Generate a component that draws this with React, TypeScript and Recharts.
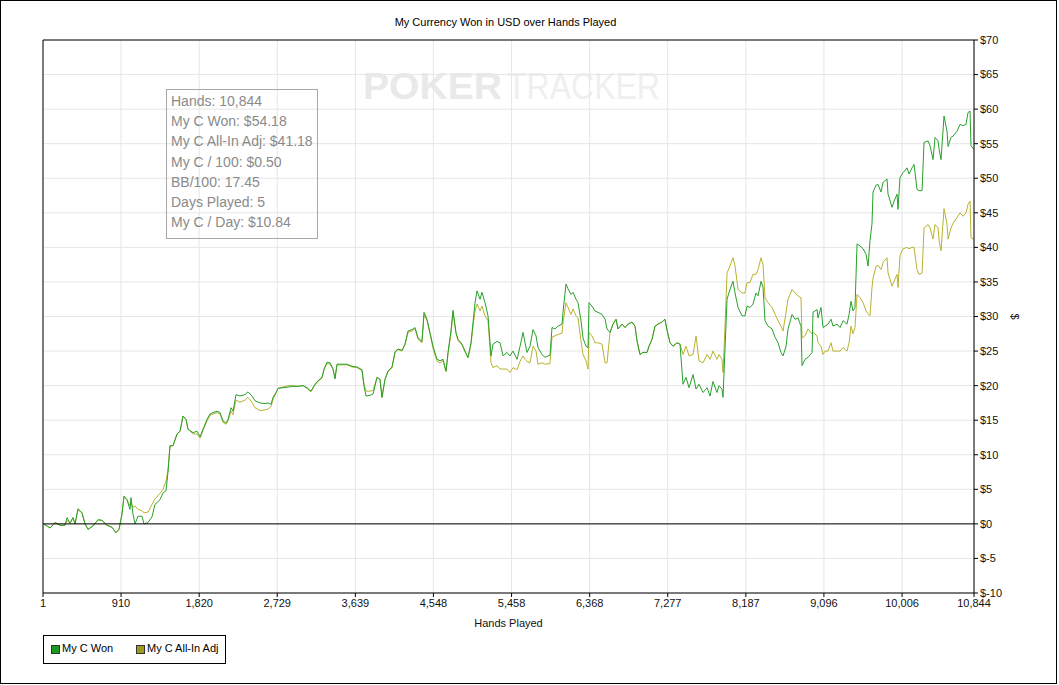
import { LineChart, Line, XAxis, YAxis, CartesianGrid, ReferenceLine } from 'recharts'

const hands = [
  1, 48, 83, 141, 199, 257, 281, 315, 350, 374, 409, 455, 490, 525, 583, 642, 688, 746, 805, 851,
  886, 921, 944, 979, 1014, 1026, 1049, 1073, 1107, 1154, 1177, 1224, 1270, 1305, 1364, 1399, 1434, 1457, 1480, 1515,
  1562, 1597, 1632, 1667, 1690, 1748, 1795, 1830, 1865, 1911, 1946,
  1981, 2028, 2063, 2097, 2132, 2156, 2191, 2214, 2249, 2295, 2354, 2389, 2435, 2470, 2528, 2587, 2622, 2657, 2680, 2715,
  2738, 2796, 2855, 2913, 2971, 3029, 3076, 3122, 3169, 3204, 3251, 3274, 3309, 3344, 3379, 3402, 3425, 3483, 3542, 3600,
  3658, 3716, 3740, 3763, 3810, 3845, 3891, 3926, 3949, 3984,
  4019, 4066, 4101, 4136, 4182, 4217, 4252, 4299, 4334, 4369, 4415, 4439, 4473, 4508, 4543, 4590, 4625, 4660, 4695, 4718,
  4753, 4776, 4811, 4835, 4881, 4916, 4951, 4986, 5009, 5033, 5056, 5091, 5114, 5149, 5184, 5219, 5242, 5289, 5324, 5359,
  5405, 5440, 5475, 5522, 5557, 5592, 5615, 5638, 5673, 5708, 5743, 5766, 5813, 5848, 5906,
  5929, 5964, 5999, 6046, 6057, 6092, 6116, 6151, 6174, 6209, 6232, 6267, 6290, 6325, 6349, 6360, 6395, 6430, 6465, 6512,
  6547, 6570, 6605, 6640, 6675, 6698, 6745, 6780, 6815, 6861, 6896, 6919, 6954, 6989, 7036, 7059, 7094, 7129, 7164, 7210,
  7245, 7269, 7304, 7339, 7385, 7420, 7455, 7490, 7525, 7572, 7607, 7641, 7688, 7735, 7770, 7804, 7851, 7874, 7909, 7921,
  7944, 7968, 8002, 8037, 8061, 8096, 8142, 8177, 8200, 8235, 8270, 8305, 8329, 8364, 8387, 8410, 8445, 8492, 8527, 8562,
  8596, 8620, 8655, 8678, 8725, 8760, 8794, 8829, 8841, 8876, 8911, 8958, 8969, 9016, 9027, 9062, 9086, 9109, 9144, 9179,
  9202, 9249, 9284, 9319, 9365, 9389, 9412, 9435, 9458, 9482, 9517, 9552, 9587, 9610, 9633, 9656, 9668, 9703, 9726, 9761,
  9784, 9831, 9843, 9889, 9913, 9948, 9959, 9982, 10017, 10064, 10087, 10122, 10146, 10180, 10204, 10239, 10262, 10309, 10332, 10367,
  10390, 10425, 10437, 10460, 10495, 10530, 10542, 10576, 10600, 10646, 10681, 10716, 10751, 10774, 10798, 10809, 10844,
]

// My C Won
const wonValues = [
  0, -0.3, -0.6, 0.2, -0.2, -0.2, 0.9, 0.1, 0.9, 0, 2.2, 1.6, 0, -0.8, -0.3, 0.6, 0.5, -0.2, -0.5, -1.3,
  -0.8, 1.4, 4.0, 3.5, 2.1, 3.8, 1.4, 0, 1.1, 1.1, 0, 0.2, 1.0, 2.8, 3.5, 4.5, 4.8, 7.5, 11.3, 11.3,
  13.0, 13.4, 15.6, 15.1, 13.7, 13.2, 13.4, 12.6, 13.7, 15.1, 15.9,
  16.1, 16.3, 16.1, 14.9, 14.6, 15.1, 16.8, 16.3, 18.7, 18.5, 18.7, 19.1, 18.5, 17.8, 17.5, 17.4, 17.5, 17.3, 18.3, 19.0,
  19.6, 19.7, 19.8, 19.9, 19.9, 20.0, 19.7, 19.2, 20.2, 20.7, 21.2, 22.4, 23.4, 23.3, 22.4, 21.0, 23.1, 23.1, 23.1, 22.8,
  22.7, 22.3, 19.9, 18.5, 18.6, 18.8, 21.2, 20.9, 18.3, 20.9,
  22.1, 22.7, 24.9, 25.3, 25.1, 26.0, 27.9, 28.1, 28.4, 26.9, 26.4, 30.6, 29.6, 27.7, 25.7, 23.8, 23.6, 23.8, 22.1, 24.8,
  27.9, 30.9, 27.7, 26.7, 26.0, 25.0, 24.1, 26.2, 29.1, 32.0, 33.7, 32.5, 33.5, 32.0, 30.1, 24.3, 26.0, 26.4, 26.2, 24.3,
  24.8, 24.3, 25.0, 23.8, 25.7, 27.7, 26.2, 24.8, 25.7, 28.1, 27.2, 25.5, 24.5, 24.1, 24.4,
  28.4, 28.2, 28.6, 28.9, 30.6, 34.7, 34.0, 33.2, 33.5, 32.5, 32.0, 29.4, 26.9, 25.7, 25.5, 32.0, 31.5, 30.8, 30.6, 30.3,
  29.6, 28.2, 27.7, 28.9, 29.6, 28.2, 28.9, 28.4, 28.9, 29.2, 28.6, 26.5, 24.5, 24.8, 24.8, 25.7, 26.7, 28.6, 28.9, 29.2,
  29.6, 28.0, 26.2, 25.7, 26.2, 26.0, 20.2, 21.2, 19.7, 21.6, 19.5, 20.2, 19.0, 19.7, 18.5, 20.6, 19.0, 20.0, 19.5, 18.3,
  25.3, 32.5, 33.9, 35.1, 33.4, 31.3, 30.1, 30.1, 31.5, 31.3, 31.8, 33.4, 33.0, 35.1, 34.2, 29.4, 28.6, 28.2, 27.0, 26.2,
  24.8, 24.3, 25.7, 28.2, 30.3, 29.6, 29.8, 28.6, 22.9, 23.8, 24.1, 24.8, 30.6, 31.0, 29.8, 31.3, 28.4, 28.6, 28.9, 29.6,
  28.6, 28.9, 28.4, 29.4, 28.9, 30.3, 32.2, 30.8, 31.3, 40.5, 40.2, 39.8, 39.0, 37.3, 41.0, 43.4, 48.0, 49.0, 49.1, 48.0,
  49.4, 49.9, 47.7, 45.8, 46.7, 47.7, 45.5, 50.1, 50.8, 51.5, 50.6, 51.5, 52.0, 48.4, 48.2, 48.2, 55.2, 55.4, 54.7, 52.7,
  55.9, 55.4, 54.2, 52.7, 59.0, 56.8, 54.6, 55.9, 56.1, 56.8, 57.8, 57.6, 57.8, 59.5, 59.7, 54.7, 54.18,
]

// My C All-In Adj
const adjValues = [
  0, -0.3, -0.6, 0.2, -0.2, -0.2, 0.5, 0.1, 0.9, 0, 2.0, 1.6, 0, -0.8, -0.3, 0.6, 0.5, -0.2, -0.5, -1.3,
  -0.8, 1.4, 4.0, 3.5, 2.6, 3.0, 2.4, 2.6, 2.1, 1.9, 1.6, 1.7, 2.8, 3.6, 4.4, 5.0, 6.2, 7.8, 11.3, 11.3,
  13.0, 13.4, 15.6, 15.1, 13.7, 13.0, 13.0, 12.4, 13.5, 14.9, 15.7,
  15.9, 16.1, 15.9, 14.7, 14.4, 14.9, 16.3, 15.8, 17.9, 17.6, 17.9, 18.3, 17.6, 16.8, 16.4, 16.5, 16.6, 17.0, 18.0, 18.9,
  19.6, 19.8, 20.0, 20.0, 19.9, 20.0, 19.6, 19.1, 20.1, 20.6, 21.1, 22.3, 23.2, 23.1, 22.3, 21.0, 23.0, 23.0, 23.0, 22.7,
  22.6, 22.2, 20.2, 19.2, 19.2, 19.3, 21.2, 20.9, 18.3, 20.9,
  22.0, 22.6, 24.8, 25.2, 25.0, 25.9, 27.7, 27.9, 28.2, 26.7, 26.2, 30.3, 29.4, 27.5, 25.4, 23.5, 23.3, 23.6, 22.0, 24.6,
  27.7, 30.6, 27.5, 26.5, 25.9, 24.9, 24.0, 26.0, 28.6, 30.8, 31.8, 30.8, 31.5, 30.1, 29.4, 23.3, 22.6, 22.9, 22.4, 22.4,
  22.4, 21.9, 22.6, 22.3, 23.5, 24.3, 23.8, 23.5, 23.3, 25.7, 25.0, 23.1, 23.3, 23.1, 23.2,
  27.0, 27.2, 27.4, 27.6, 29.0, 32.0, 31.3, 30.3, 31.1, 30.1, 29.8, 26.5, 24.5, 23.6, 22.4, 27.7, 27.2, 26.2, 26.2, 26.0,
  23.3, 23.3, 27.7, 28.9, 29.6, 28.2, 28.9, 28.4, 28.9, 29.2, 28.6, 26.5, 24.5, 24.8, 24.8, 25.7, 26.7, 28.6, 28.9, 29.2,
  29.6, 28.0, 26.2, 25.7, 26.2, 26.0, 24.5, 25.7, 24.3, 24.5, 27.2, 23.6, 23.3, 24.5, 23.8, 25.0, 23.8, 24.5, 23.8, 21.9,
  28.6, 36.3, 37.3, 38.5, 37.3, 33.9, 33.4, 33.4, 34.9, 34.9, 36.1, 36.1, 36.8, 38.5, 37.5, 32.7, 32.0, 31.3, 30.3, 29.4,
  28.6, 27.9, 30.6, 32.5, 33.9, 33.4, 33.0, 32.7, 26.9, 27.2, 28.2, 27.5, 27.7, 27.2, 26.2, 25.7, 24.5, 25.0, 25.0, 26.2,
  25.0, 25.0, 25.0, 25.5, 25.0, 26.2, 28.6, 27.5, 28.4, 33.2, 32.7, 32.0, 30.8, 30.4, 30.1, 34.2, 35.5, 37.3, 37.4, 36.8,
  37.8, 38.5, 36.3, 34.4, 35.1, 36.1, 34.2, 38.8, 39.8, 40.0, 39.8, 40.0, 40.0, 36.8, 36.1, 36.3, 42.8, 43.3, 42.8, 41.2,
  43.3, 42.8, 41.0, 39.5, 45.6, 43.3, 41.2, 42.8, 43.5, 44.3, 45.0, 44.5, 45.0, 46.2, 46.7, 41.4, 41.18,
]

const xTicks = [1, 910, 1820, 2729, 3639, 4548, 5458, 6368, 7277, 8187, 9096, 10006, 10844]
const yTicks = [-10, -5, 0, 5, 10, 15, 20, 25, 30, 35, 40, 45, 50, 55, 60, 65, 70]

const statLines = [
  'Hands: 10,844',
  'My C Won: $54.18',
  'My C All-In Adj: $41.18',
  'My C / 100: $0.50',
  'BB/100: 17.45',
  'Days Played: 5',
  'My C / Day: $10.84',
]

const WON_COLOR = '#27a02c'
const ADJ_COLOR = '#b9b230'
const FONT = '"Liberation Sans", Arial, sans-serif'

const data = hands.map((hand, i) => ({ hand, won: wonValues[i], adj: adjValues[i] }))

export default function App() {
  return (
    <div style={{ position: 'relative', width: 1059, height: 685, background: '#fff', fontFamily: FONT }}>
      <style>{'body{margin:0}'}</style>

      {/* watermark */}
      <svg width={1059} height={685} style={{ position: 'absolute', left: 0, top: 0 }}>
        <text x={363} y={99} fontSize={36} fontWeight="bold" fill="#e9e9e9" textLength={139} lengthAdjust="spacingAndGlyphs" fontFamily={FONT}>
          POKER
        </text>
        <text x={507} y={99} fontSize={36} fill="#efefef" textLength={153} lengthAdjust="spacingAndGlyphs" fontFamily={FONT}>
          TRACKER
        </text>
      </svg>

      <div style={{ position: 'absolute', left: 0, top: 0 }}>
        <LineChart
          width={1059}
          height={685}
          data={data}
          margin={{ top: 40, right: 3, bottom: 52, left: 43 }}
          style={{ fontFamily: FONT }}
        >
          <CartesianGrid stroke="#e6e6e6" />
          <XAxis
            dataKey="hand"
            type="number"
            domain={[1, 10844]}
            ticks={xTicks}
            tickFormatter={(v) => Number(v).toLocaleString('en-US')}
            height={40}
            tickSize={4}
            axisLine={{ stroke: '#000' }}
            tickLine={{ stroke: '#000' }}
            tick={{ fontSize: 11, fill: '#111' }}
            interval={0}
            label={{ value: 'Hands Played', position: 'insideBottom', offset: 6, fontSize: 11, fill: '#111' }}
          />
          <YAxis
            orientation="right"
            domain={[-10, 70]}
            ticks={yTicks}
            tickFormatter={(v) => `$${v}`}
            width={82}
            tickSize={4}
            axisLine={{ stroke: '#000' }}
            tickLine={{ stroke: '#000' }}
            tick={{ fontSize: 11, fill: '#111' }}
            interval={0}
            label={{ value: '$', angle: 90, position: 'center', fontSize: 11, fill: '#111' }}
          />
          <ReferenceLine y={70} stroke="#000" />
          <ReferenceLine x={1} stroke="#000" />
          <Line type="linear" dataKey="adj" stroke={ADJ_COLOR} strokeWidth={1} dot={false} isAnimationActive={false} />
          <Line type="linear" dataKey="won" stroke={WON_COLOR} strokeWidth={1} dot={false} isAnimationActive={false} />
          <ReferenceLine y={0} stroke="#000" />
        </LineChart>
      </div>

      <div style={{ position: 'absolute', left: 0, top: 16, width: 1011, textAlign: 'center', fontSize: 11, color: '#000' }}>
        My Currency Won in USD over Hands Played
      </div>

      {/* stats box */}
      <div
        style={{
          position: 'absolute',
          left: 166,
          top: 89,
          width: 152,
          height: 150,
          boxSizing: 'border-box',
          border: '1px solid #a8a8a8',
          padding: '1px 0 0 4px',
          fontSize: 14,
          lineHeight: '20.2px',
          color: '#8a8a8a',
        }}
      >
        {statLines.map((s) => (
          <div key={s} style={{ whiteSpace: 'nowrap' }}>{s}</div>
        ))}
      </div>

      {/* legend */}
      <div
        style={{
          position: 'absolute',
          left: 43,
          top: 635,
          width: 183,
          height: 29,
          boxSizing: 'border-box',
          border: '1px solid #000',
          fontSize: 11,
          color: '#000',
        }}
      >
        {[
          { name: 'My C Won', color: '#1d9a1d', left: 7, textLeft: 18 },
          { name: 'My C All-In Adj', color: '#9c9c1c', left: 92, textLeft: 103 },
        ].map((item) => (
          <div key={item.name}>
            <div
              style={{
                position: 'absolute',
                left: item.left,
                top: 9,
                width: 7,
                height: 7,
                background: item.color,
                border: '1px solid #333',
              }}
            />
            <div style={{ position: 'absolute', left: item.textLeft, top: 6, whiteSpace: 'nowrap' }}>{item.name}</div>
          </div>
        ))}
      </div>

      {/* outer frame */}
      <div
        style={{
          position: 'absolute',
          left: 0,
          top: 0,
          width: 1057,
          height: 684,
          boxSizing: 'border-box',
          border: '1px solid #000',
          pointerEvents: 'none',
        }}
      />
    </div>
  )
}
